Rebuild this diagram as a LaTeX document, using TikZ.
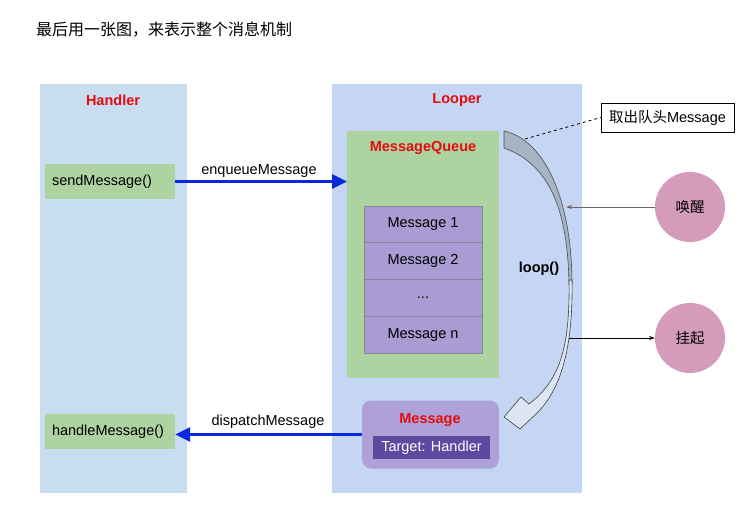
\documentclass[tikz,border=0pt]{standalone}
\usepackage{fontspec}
\setmainfont{Liberation Sans}
\newfontfamily\cjk{Noto Sans CJK SC}
\usetikzlibrary{arrows.meta}
\pgfdeclarelayer{bg}
\pgfsetlayers{bg,main}
\definecolor{handlerblue}{RGB}{201,221,241}
\definecolor{looperblue}{RGB}{197,214,245}
\definecolor{boxgreen}{RGB}{172,211,160}
\definecolor{msgpurple}{RGB}{168,156,210}
\definecolor{msglight}{RGB}{174,161,216}
\definecolor{targetpurple}{RGB}{92,74,160}
\definecolor{titlered}{RGB}{228,12,12}
\definecolor{arrowblue}{RGB}{10,40,220}
\definecolor{statepink}{RGB}{212,156,186}
\definecolor{curvegray}{RGB}{166,180,196}
\definecolor{curvelight}{RGB}{220,230,243}
\tikzset{
    every node/.style={inner sep=0pt, font=\fontsize{14.5}{16}\selectfont},
    panel/.style={anchor=north west, minimum width=#1},
    paneltitle/.style={text=titlered, font=\fontsize{14.5}{16}\selectfont\bfseries},
    method/.style={fill=boxgreen, minimum height=35pt, text width=116pt, align=left, inner xsep=7pt},
    msgrow/.style={fill=msgpurple, draw=gray!80!msgpurple, minimum width=118pt, minimum height=36.7pt},
    state/.style={circle, fill=statepink, minimum size=70pt},
    flow/.style={arrowblue, line width=2.6pt, -{Triangle[length=15pt,width=14pt]}}
}
\begin{document}
\begin{tikzpicture}[x=1pt, y=-1pt]
        \useasboundingbox (0,0) rectangle (751,519);
        \node (title) [anchor=west] at (36,30) {\fontsize{16}{18}\selectfont\cjk 最后用一张图，来表示整个消息机制};
        \begin{pgfonlayer}{bg}
                \node (handler) [panel=147pt, minimum height=409pt, fill=handlerblue] at (40,84) {};
                \node (looper) [panel=250pt, minimum height=409pt, fill=looperblue] at (332,84) {};
                \node (queue) [panel=152pt, minimum height=247pt, fill=boxgreen] at (347,131) {};
        \end{pgfonlayer}
        \node (handlertitle) [paneltitle] at (113,100) {Handler};
        \node (loopertitle) [paneltitle] at (457,100) {Looper};
        \node (queuetitle) [paneltitle] at (423,148) {MessageQueue};
        \node (send) [method] at (110,181.5) {sendMessage()};
        \node (handle) [method] at (110,431.5) {handleMessage()};
        \node (m1) [msgrow] at (423,224.5) {Message 1};
        \node (m2) [msgrow] at (423,261) {Message 2};
        \node (m3) [msgrow] at (423,298) {...};
        \node (m4) [msgrow] at (423,334.7) {Message n};
        \node (msg) [fill=msglight, rounded corners=9pt, minimum width=137pt, minimum height=68pt] at (430.5,434.5) {};
        \node (msgtitle) [paneltitle] at (430,420) {Message};
        \node (target) [fill=targetpurple, text=white, minimum width=117pt, minimum height=23pt] at (431.5,447.5) {Target: Handler};
        \node (fetch) [draw, minimum width=133pt, minimum height=29pt] at (667.5,117.5) {{\cjk 取出队头}Message};
        \node (wake) [state] at (690,207) {\cjk 唤醒};
        \node (sleep) [state] at (690,338) {\cjk 挂起};
        \node (loop) [font=\fontsize{14.5}{16}\selectfont\bfseries] at (539,269) {loop()};
        % curved loop arrow
        \fill[curvegray, draw=black!70, line width=0.6pt] (504,131) .. controls (545,140) and (572,200) .. (572,285)
                -- (569,285) .. controls (568,215) and (552,165) .. (504,148) -- cycle;
        \fill[curvelight, draw=black!75, line width=0.6pt] (569,280) .. controls (570,348) and (560,380) .. (529,404)
                -- (521,397) -- (504,417) -- (520,429) -- (535,415)
                .. controls (564,388) and (573,340) .. (572,280) -- cycle;
        \coordinate (fetchpt) at (525,139);
        \coordinate (wakept) at (566,207);
        \coordinate (sleeppt) at (569,338);
        \draw (send.east) edge [flow] (send.east -| queue.west);
        \node (enqueue) at (259,171) {enqueueMessage};
        \draw (msg.west) edge [flow] (msg.west -| handle.east);
        \node (dispatch) at (268,421.5) {dispatchMessage};
        \draw [dashed, thick] (fetchpt) -- (fetch.west);
        \draw [black!60, thick, -{Stealth[length=6pt,width=4pt]}] (wake) -- (wakept);
        \draw [thick, -{Stealth[length=6pt,width=4pt]}] (sleeppt) -- (sleep);
\end{tikzpicture}
\end{document}
